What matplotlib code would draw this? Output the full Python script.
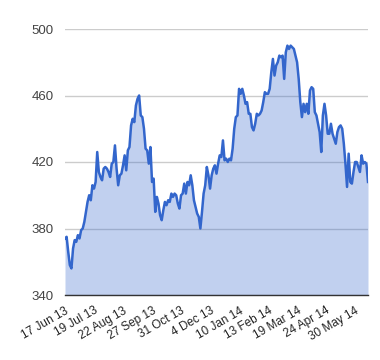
import numpy as np
import matplotlib
matplotlib.use("Agg")
import matplotlib.pyplot as plt

plt.rcParams['font.family'] = ['Liberation Sans', 'DejaVu Sans']

# closing values (oldest first)
values = [
    374, 375, 366, 358, 356, 368, 373, 372, 376, 374, 379, 380, 384, 390, 396, 400,
    397, 406, 404, 408, 426, 414, 411, 409, 416, 417, 416, 414, 411, 419, 420, 430,
    416, 406, 412, 413, 418, 424, 415, 427, 429, 442, 446, 444, 454, 458, 460,
    448, 447, 440, 428, 427, 419, 429, 408, 410, 390, 399, 395, 388, 385, 391, 396,
    394, 397, 396, 401, 399, 401, 400, 395, 392, 400, 401, 407, 401, 408, 406, 412,
    406, 397, 393, 389, 387, 380, 390, 401, 406, 417, 412, 404, 412, 416, 418,
    413, 419, 424, 423, 433, 421, 422, 420, 422, 421, 428, 440, 447, 448, 464, 461,
    464, 460, 455, 456, 449, 449, 441, 439, 443, 449, 448, 449, 451, 456, 462, 461,
    461, 464, 474, 482, 472, 478, 480, 484, 483, 484, 470, 486, 490, 488, 490, 489,
    488, 484, 480, 470, 456, 447, 455, 450, 455, 449, 463, 465, 464, 450, 448, 443,
    438, 426, 448, 455, 448, 437, 437, 443, 437, 434, 431, 438, 441, 442, 440, 431,
    419, 405, 425, 408, 407, 414, 420, 420, 417, 414, 424, 419, 420, 419, 408,
]
tick_labels = ["17 Jun 13", "19 Jul 13", "22 Aug 13", "27 Sep 13", "31 Oct 13",
               "4 Dec 13", "10 Jan 14", "13 Feb 14", "19 Mar 14", "24 Apr 14",
               "30 May 14"]
y_ticks = [340, 380, 420, 460, 500]

x = np.arange(len(values))
fig = plt.figure(figsize=(3.8, 3.6), dpi=100)
ax = fig.add_axes([65/380, 65/360, 303/380, 266/360])

ax.fill_between(x, values, 340, color='#3366cc', alpha=0.3, linewidth=0)
ax.plot(x, values, color='#3366cc', linewidth=1.8)

ax.set_xlim(0, len(values) - 1)
ax.set_ylim(340, 500)
ax.set_yticks(y_ticks)
ax.yaxis.grid(True, color='#cccccc', linewidth=1)
ax.set_axisbelow(True)
ax.set_xticks(x[::18])
ax.set_xticklabels(tick_labels, rotation=30, ha='right', rotation_mode='anchor')
ax.tick_params(axis='both', length=0, colors='#444444')
ax.tick_params(axis='x', pad=7, labelsize=8.5, colors='#222222')
ax.tick_params(axis='y', pad=8, labelsize=9.5)

for s in ['top', 'right', 'left']:
    ax.spines[s].set_visible(False)
ax.spines['bottom'].set_color('#333333')
ax.spines['bottom'].set_linewidth(1)

fig.savefig("out.png", dpi=100)
